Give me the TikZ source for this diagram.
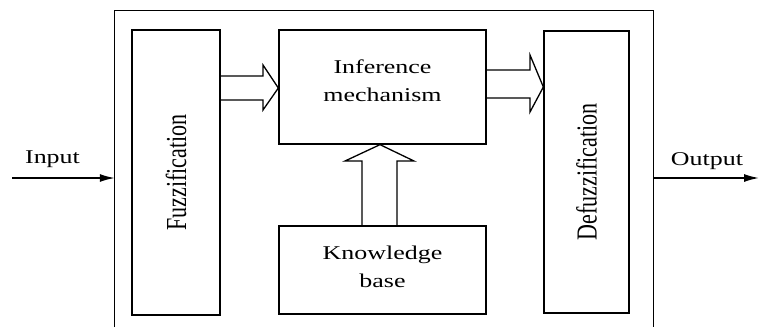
\documentclass[tikz,border=0pt]{standalone}
\usepackage{fontspec}
\setmainfont{Liberation Serif}
\newfontfamily\widefont[FakeStretch=1.33]{Liberation Serif}
\newfontfamily\tallfont[FakeStretch=0.76]{Liberation Serif}
\usetikzlibrary{arrows.meta}
\tikzset{
  blk/.style={draw, line width=1.3pt, align=center, inner sep=0pt,
    font=\widefont\fontsize{19.5}{28}\selectfont},
  vblk/.style={draw, line width=1.3pt, inner sep=0pt, rotate=90,
    font=\tallfont\fontsize{29}{30}\selectfont},
  lbl/.style={anchor=base, inner sep=0pt, font=\widefont\fontsize{19.5}{28}\selectfont},
  fat/.style={draw, line width=1.3pt, line join=miter},
  sig/.style={line width=1.5pt, -{Latex[length=15pt,width=8pt]}}
}

\begin{document}
\begin{tikzpicture}[x=1pt,y=-1pt]
        \useasboundingbox (0,0) rectangle (760,327);
        \node (sys) [minimum width=538pt, minimum height=316pt, inner sep=0pt] at (384,169) {};
        \node (fuzz) [vblk, minimum width=285pt, minimum height=88pt] at (176,172.5) {Fuzzification};
        \node (inf) [blk, text depth=13pt, minimum width=207pt, minimum height=114pt] at (382.5,87) {Inference\\mechanism};
        \node (kb) [blk, text depth=6pt, minimum width=207pt, minimum height=88pt] at (382.5,270) {Knowledge\\base};
        \node (defuzz) [vblk, minimum width=282pt, minimum height=85pt] at (586.5,172) {Defuzzification};
        \coordinate (in) at (12,178);
        \coordinate (out) at (759,178);
        \node (inlbl) [lbl] at (52.5,163) {Input};
        \node (outlbl) [lbl] at (707,165) {Output};
        \draw [line width=1.3pt] (sys.south west) |- (sys.north east) -- (sys.south east);
        \draw [sig] (in) -- (in -| sys.west);
        \draw [sig] (out -| sys.east) -- (out);
        \draw [fat] (fuzz.south |- 0,76) -- (263,76) -- (263,65) -- (inf.west |- 0,88)
                -- (263,110) -- (263,100) -- (fuzz.south |- 0,100);
        \draw [fat] (inf.east |- 0,70) -- (530,70) -- (530,55) -- (defuzz.north |- 0,87)
                -- (530,112) -- (530,98) -- (inf.east |- 0,98);
        \draw [fat] (kb.north -| 362,0) -- (362,161) -- (345,161) -- (inf.south -| 380,0)
                -- (414,161) -- (397,161) -- (kb.north -| 397,0);
\end{tikzpicture}
\end{document}
